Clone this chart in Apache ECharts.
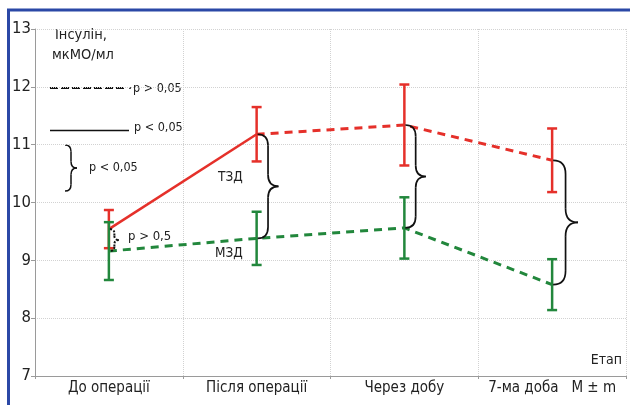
<!DOCTYPE html>
<html><head><meta charset="utf-8">
<script src="https://cdn.jsdelivr.net/npm/echarts@6/dist/echarts.min.js"></script>
<style>html,body{margin:0;padding:0;background:#fff}#c{width:630px;height:405px}</style>
</head><body><div id="c"></div>
<script>
// ---- data ----
const categories = ['До операції', 'Після операції', 'Через добу', '7-ма доба'];
const tzdMean = [9.54, 11.18, 11.34, 10.73];   // ТЗД (red)
const tzdErr  = [0.33, 0.47, 0.70, 0.55];
const mzdMean = [9.16, 9.38, 9.56, 8.58];      // МЗД (green)
const mzdErr  = [0.50, 0.46, 0.53, 0.44];
const yTicks  = [7, 8, 9, 10, 11, 12, 13];
const braceAt = [1, 2, 3];        // solid braces (p < 0,05)
const dottedBraceAt = [0];        // dotted brace (p > 0,5)
const axisNote = 'M ± m';

const FONT = "'DejaVu Sans Condensed','Liberation Sans',sans-serif";
const RED = '#e5302a', GREEN = '#22873c', TXT = '#222';

const chart = echarts.init(document.getElementById('c'), null, {renderer: 'canvas'});

function errBarSeries(mean, err, color, z) {
  return {
    type: 'custom', z: z, silent: true,
    data: mean.map((m, i) => [i, m - err[i], m + err[i]]),
    renderItem(params, api) {
      const x = api.value(0);
      const lo = api.coord([x, api.value(1)]);
      const hi = api.coord([x, api.value(2)]);
      const hw = 5;
      const style = {stroke: color, lineWidth: 2.5};
      return {type: 'group', children: [
        {type: 'line', shape: {x1: lo[0], y1: lo[1], x2: hi[0], y2: hi[1]}, style},
        {type: 'line', shape: {x1: lo[0] - hw, y1: lo[1], x2: lo[0] + hw, y2: lo[1]}, style},
        {type: 'line', shape: {x1: hi[0] - hw, y1: hi[1], x2: hi[0] + hw, y2: hi[1]}, style}
      ]};
    }
  };
}

// curly brace "}" built from quadratic curves and straight lines
function braceGroup(x0, yt, yb, w, style) {
  const ym = (yt + yb) / 2;
  const xv = x0 + w, xt = x0 + 2 * w;
  const r = Math.min(w * 1.1, (yb - yt) / 5);
  const st = () => Object.assign({fill: null}, style);
  return {type: 'group', children: [
    {type: 'bezierCurve', shape: {x1: x0, y1: yt, cpx1: xv, cpy1: yt, x2: xv, y2: yt + r}, style: st()},
    {type: 'line', shape: {x1: xv, y1: yt + r, x2: xv, y2: ym - r}, style: st()},
    {type: 'bezierCurve', shape: {x1: xv, y1: ym - r, cpx1: xv, cpy1: ym, x2: xt, y2: ym}, style: st()},
    {type: 'bezierCurve', shape: {x1: xt, y1: ym, cpx1: xv, cpy1: ym, x2: xv, y2: ym + r}, style: st()},
    {type: 'line', shape: {x1: xv, y1: ym + r, x2: xv, y2: yb - r}, style: st()},
    {type: 'bezierCurve', shape: {x1: xv, y1: yb - r, cpx1: xv, cpy1: yb, x2: x0, y2: yb}, style: st()}
  ]};
}

function braceSeries(idx, dotted) {
  return {
    type: 'custom', z: 6, silent: true,
    data: idx.map(i => [i, tzdMean[i], mzdMean[i]]),
    renderItem(params, api) {
      const x = api.value(0);
      const t = api.coord([x, api.value(1)]);
      const b = api.coord([x, api.value(2)]);
      const h = b[1] - t[1];
      const w = dotted ? 4.5 : Math.max(8, h * 0.1);
      const style = dotted ? {stroke: '#111', lineWidth: 2, lineDash: [2, 2]}
                           : {stroke: '#111', lineWidth: 1.7};
      return braceGroup(t[0] + 1, t[1], b[1], w, style);
    }
  };
}

const redSolid = tzdMean.map((v, i) => i <= 1 ? v : null);
const redDash  = tzdMean.map((v, i) => i >= 1 ? v : null);

function label(x, y, text, size, extra) {
  return {type: 'text', x: x, y: y,
    style: Object.assign({text: text, font: `${size}px ${FONT}`, fill: TXT, verticalAlign: 'middle'}, extra || {})};
}

const option = {
  backgroundColor: '#fff',
  animation: false,
  grid: {left: 35, right: 4, top: 29, bottom: 29},
  xAxis: {
    type: 'category', data: categories, boundaryGap: true,
    axisLine: {lineStyle: {color: '#9a9a9a', width: 1}},
    axisTick: {show: true, length: 3, interval: 0, lineStyle: {color: '#9a9a9a'}},
    axisLabel: {fontFamily: FONT, fontSize: 15, color: TXT, margin: 5, interval: 0,
      formatter: (v, i) => i === categories.length - 1 ? v + '   ' + axisNote : v},
    splitLine: {show: true, interval: 0, lineStyle: {type: 'dotted', color: '#d2d2d2', width: 1}}
  },
  yAxis: {
    type: 'value', min: yTicks[0], max: yTicks[yTicks.length - 1], interval: 1,
    axisLine: {show: true, lineStyle: {color: '#9a9a9a', width: 1}},
    axisTick: {show: true, length: 4, lineStyle: {color: '#9a9a9a'}},
    axisLabel: {fontFamily: FONT, fontSize: 16.5, color: TXT, margin: 4},
    splitLine: {show: true, lineStyle: {type: 'dotted', color: '#d2d2d2', width: 1}}
  },
  series: [
    {type: 'line', data: mzdMean, symbol: 'none', z: 2,
     lineStyle: {color: GREEN, width: 3, type: [8, 6]}},
    {type: 'line', data: redSolid, symbol: 'none', z: 2,
     lineStyle: {color: RED, width: 2.5, type: 'solid'}},
    {type: 'line', data: redDash, symbol: 'none', z: 2,
     lineStyle: {color: RED, width: 3, type: [8, 6]}},
    errBarSeries(tzdMean, tzdErr, RED, 4),
    errBarSeries(mzdMean, mzdErr, GREEN, 5),
    braceSeries(braceAt, false),
    braceSeries(dottedBraceAt, true)
  ],
  graphic: [
    {type: 'rect', shape: {x: 8.5, y: 10, width: 700, height: 500},
     style: {stroke: '#2b48a6', lineWidth: 3, fill: null}, z: 100, silent: true},
    label(55, 35, 'Інсулін,', 14.5),
    label(52, 55.5, 'мкМО/мл', 14.5),
    {type: 'line', shape: {x1: 50, y1: 88, x2: 126, y2: 88},
     style: {stroke: '#111', lineWidth: 2, lineDash: [8, 3]}},
    {type: 'circle', shape: {cx: 130, cy: 88, r: 1}, style: {fill: '#111'}},
    label(133, 89, 'p > 0,05', 12.5),
    {type: 'line', shape: {x1: 50, y1: 130.5, x2: 129, y2: 130.5},
     style: {stroke: '#111', lineWidth: 1.3}},
    label(134, 128, 'p < 0,05', 12.5),
    braceGroup(65, 145, 191, 6, {stroke: '#111', lineWidth: 1.5}),
    label(89, 168, 'p < 0,05', 12.5),
    label(218, 177.5, 'ТЗД', 13.5),
    label(215, 253.5, 'МЗД', 13.5),
    label(128, 237, 'p > 0,5', 13),
    label(622, 360, 'Етап', 14, {align: 'right'})
  ]
};
chart.setOption(option);
</script>
</body></html>
